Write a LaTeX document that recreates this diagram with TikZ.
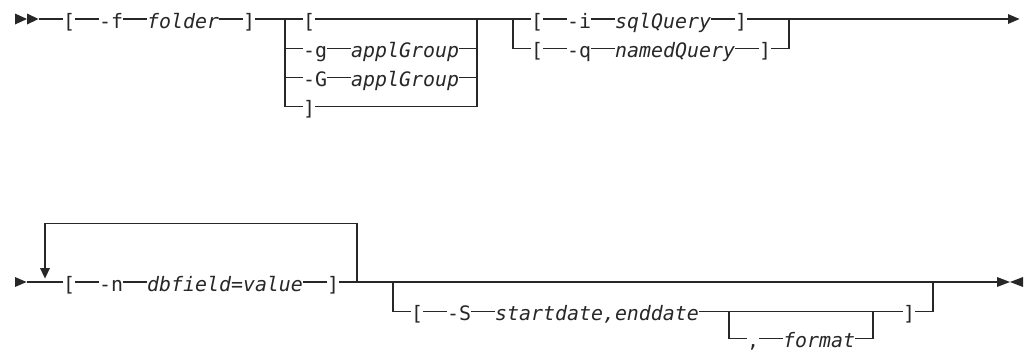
\documentclass[tikz,border=0pt]{standalone}
\usepackage{fontspec}
\setmonofont{DejaVu Sans Mono}
\definecolor{ink}{RGB}{40,38,38}
\begin{document}
\begin{tikzpicture}[x=1pt,y=-1pt,
  tok/.style={anchor=west, inner sep=0pt, text height=18pt, text depth=0pt,
    font=\ttfamily\fontsize{19.9}{24}\selectfont, text=ink},
  itok/.style={tok, font=\ttfamily\itshape\fontsize{19.9}{24}\selectfont},
  rail/.style={draw=ink, line width=1.1pt},
  tip/.style={fill=ink, draw=none}]
\useasboundingbox (0,0) rectangle (1026,351);
% ---------- first line ----------
\fill[tip] (15,13.5) -- (15,24.5) -- (27,19) -- cycle;
\fill[tip] (27,13.5) -- (27,24.5) -- (38.5,19) -- cycle;
\coordinate (s1) at (38.5,19);
\node[tok]  (lb1)    at (63,19)  {[};
\node[tok]  (f)      at (99,19)  {-f};
\node[itok] (folder) at (147,19) {folder};
\node[tok]  (rb1)    at (243,19) {]};
% choice A
\node[tok]  (lbA)    at (303,19)    {[};
\node[tok]  (g)      at (303,48.3)  {-g};
\node[itok] (applg)  at (351,48.3)  {applGroup};
\node[tok]  (G)      at (303,77.6)  {-G};
\node[itok] (applG)  at (351,77.6)  {applGroup};
\node[tok]  (rbA)    at (303,106.9) {]};
% choice B
\node[tok]  (lbi)    at (531,19)   {[};
\node[tok]  (i)      at (567,19)   {-i};
\node[itok] (sql)    at (615,19)   {sqlQuery};
\node[tok]  (rbi)    at (735,19)   {]};
\node[tok]  (lbq)    at (531,48.3) {[};
\node[tok]  (q)      at (567,48.3) {-q};
\node[itok] (named)  at (615,48.3) {namedQuery};
\node[tok]  (rbq)    at (759,48.3) {]};
\coordinate (a1) at (285,19);  \coordinate (a2) at (285,48.3);
\coordinate (a3) at (285,77.6); \coordinate (a4) at (285,106.9);
\coordinate (b1) at (477,19);  \coordinate (b2) at (477,48.3);
\coordinate (b3) at (477,77.6); \coordinate (b4) at (477,106.9);
\coordinate (c1) at (513,19);  \coordinate (c2) at (513,48.3);
\coordinate (d1) at (789,19);  \coordinate (d2) at (789,48.3);
\coordinate (e1) at (1008,19);
\draw[rail] (s1) -- (lb1.west);
\draw[rail] (lb1.east) -- (f.west);
\draw[rail] (f.east) -- (folder.west);
\draw[rail] (folder.east) -- (rb1.west);
\draw[rail] (rb1.east) -- (lbA.west);
\draw[rail] (a1) -- (a4) -- (rbA.west);
\draw[rail] (a2) -- (g.west);
\draw[rail] (a3) -- (G.west);
\draw[rail] (g.east) -- (applg.west);
\draw[rail] (G.east) -- (applG.west);
\draw[rail] (applg.east) -- (b2);
\draw[rail] (applG.east) -- (b3);
\draw[rail] (rbA.east) -- (b4) -- (b1);
\draw[rail] (lbA.east) -- (lbi.west);
\draw[rail] (c1) -- (c2) -- (lbq.west);
\draw[rail] (lbi.east) -- (i.west);
\draw[rail] (i.east) -- (sql.west);
\draw[rail] (sql.east) -- (rbi.west);
\draw[rail] (lbq.east) -- (q.west);
\draw[rail] (q.east) -- (named.west);
\draw[rail] (named.east) -- (rbq.west);
\draw[rail] (rbq.east) -- (d2) -- (d1);
\draw[rail] (rbi.east) -- (e1);
\fill[tip] (1008,14) -- (1008,24) -- (1019.5,19) -- cycle;
% ---------- second line ----------
\fill[tip] (15,277) -- (15,287) -- (26.5,282) -- cycle;
\coordinate (s2) at (26.5,282);
\node[tok]  (lbn)   at (63,282)  {[};
\node[tok]  (n)     at (99,282)  {-n};
\node[itok] (dbf)   at (147,282) {dbfield=value};
\node[tok]  (rbn)   at (327,282) {]};
\node[tok]  (lbS)   at (411,311.3) {[};
\node[tok]  (S)     at (447,311.3) {-S};
\node[itok] (sd)    at (495,311.3) {startdate,enddate};
\node[tok]  (rbS)   at (903,311.3) {]};
\node[tok]  (comma) at (747,338.5) {,};
\node[itok] (fmt)   at (783,338.5) {format};
\coordinate (l1) at (357,282); \coordinate (l2) at (357,223.4);
\coordinate (l3) at (45,223.4); \coordinate (l4) at (45,268.5);
\coordinate (m1) at (393,282); \coordinate (m2) at (393,311.3);
\coordinate (p1) at (729,311.3); \coordinate (p2) at (729,338.5);
\coordinate (r1) at (873,311.3); \coordinate (r2) at (873,338.5);
\coordinate (t1) at (933,282); \coordinate (t2) at (933,311.3);
\coordinate (e2) at (997,282);
\draw[rail] (s2) -- (lbn.west);
\draw[rail] (lbn.east) -- (n.west);
\draw[rail] (n.east) -- (dbf.west);
\draw[rail] (dbf.east) -- (rbn.west);
\draw[rail] (l1) -- (l2) -- (l3) -- (l4);
\fill[tip] (40,268) -- (50,268) -- (45,278.5) -- cycle;
\draw[rail] (rbn.east) -- (e2);
\draw[rail] (m1) -- (m2) -- (lbS.west);
\draw[rail] (lbS.east) -- (S.west);
\draw[rail] (S.east) -- (sd.west);
\draw[rail] (sd.east) -- (rbS.west);
\draw[rail] (p1) -- (p2) -- (comma.west);
\draw[rail] (comma.east) -- (fmt.west);
\draw[rail] (fmt.east) -- (r2) -- (r1);
\draw[rail] (rbS.east) -- (t2) -- (t1);
\fill[tip] (997,277) -- (997,287) -- (1010,282) -- cycle;
\fill[tip] (1023,277) -- (1023,287) -- (1010,282) -- cycle;
\end{tikzpicture}
\end{document}
